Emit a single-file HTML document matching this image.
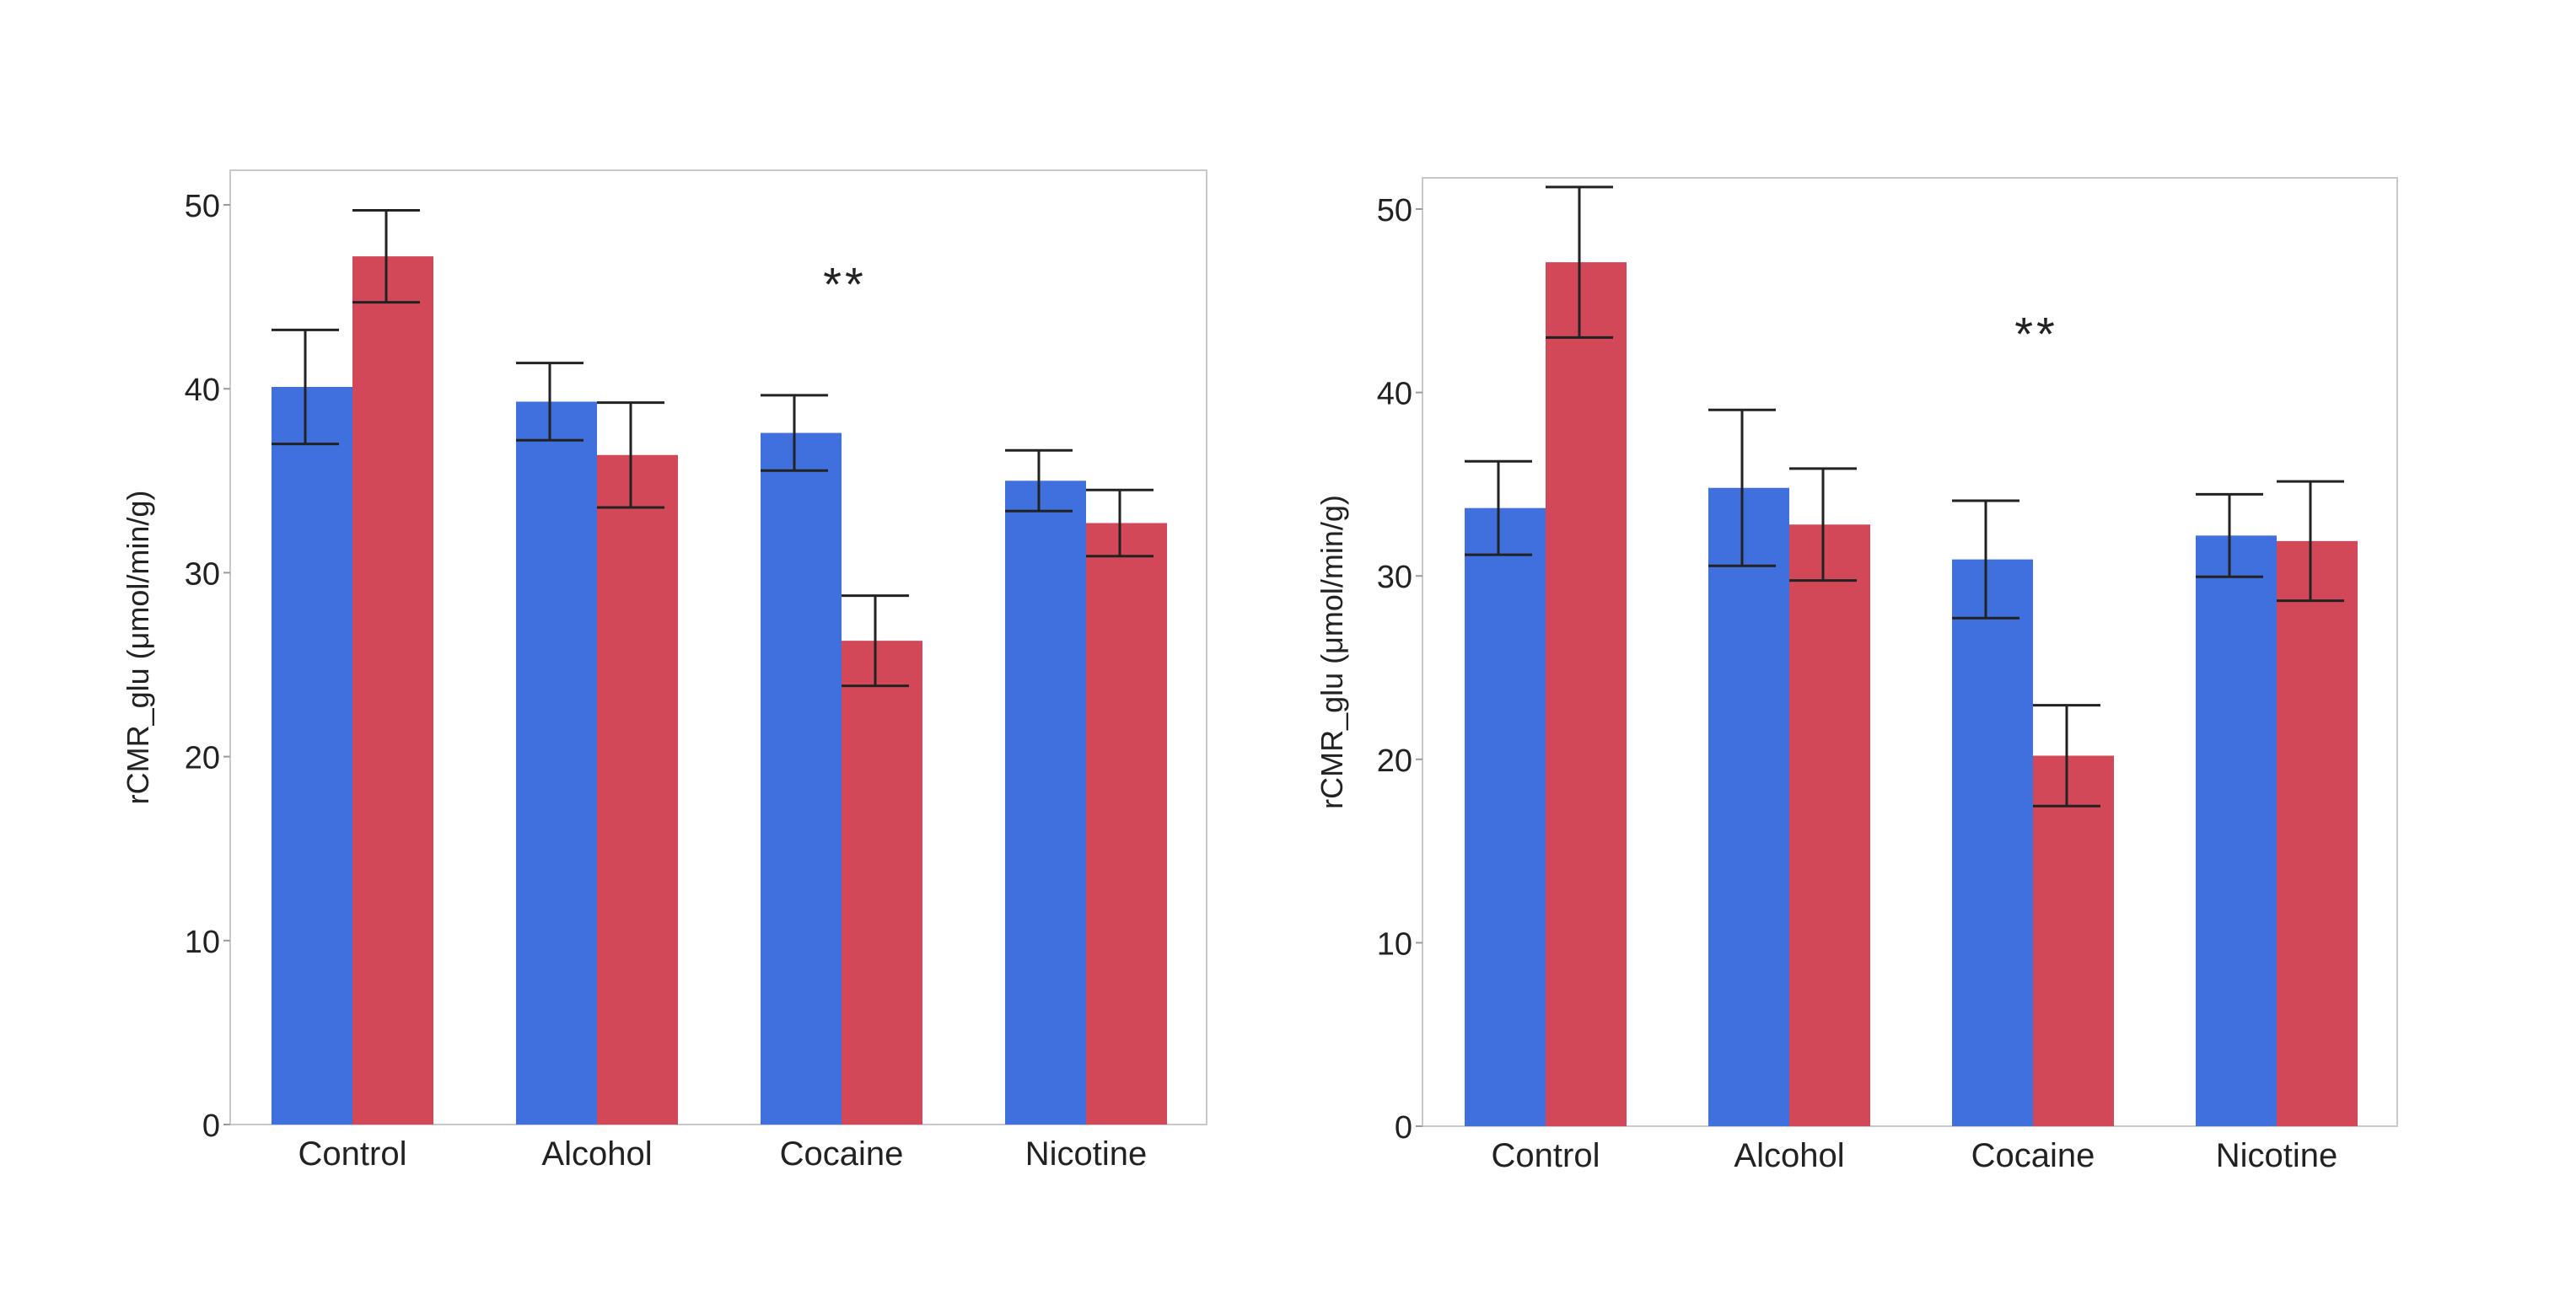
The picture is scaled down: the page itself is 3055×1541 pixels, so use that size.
<!DOCTYPE html>
<html><head><meta charset="utf-8"><style>
html,body{margin:0;padding:0;background:#fff;}
svg{display:block;}
text{font-family:"Liberation Sans",sans-serif;fill:#222;}
</style></head><body>
<svg id="chart" width="3055" height="1541" viewBox="0 0 3055 1541" xmlns="http://www.w3.org/2000/svg"></svg>
<script>
const categories = ["Control","Alcohol","Cocaine","Nicotine"];
const yTicks = [0,10,20,30,40,50];
const leftBlue = [40.1,39.3,37.6,35.0];
const leftRed = [47.2,36.4,26.3,32.7];
const leftBlueErr = [3.1,2.1,2.05,1.65];
const leftRedErr = [2.5,2.85,2.45,1.8];
const rightBlue = [33.7,34.8,30.9,32.2];
const rightRed = [47.1,32.8,20.2,31.9];
const rightBlueErr = [2.55,4.25,3.2,2.25];
const rightRedErr = [4.1,3.05,2.75,3.25];
const sigCategory = 2;
const sigLeftValue = 46.0;
const sigRightValue = 43.5;

const NS = "http://www.w3.org/2000/svg";
const svg = document.getElementById('chart');
function mk(tag, attrs, parent){
  const e = document.createElementNS(NS, tag);
  for (const k in attrs) e.setAttribute(k, attrs[k]);
  (parent||svg).appendChild(e); return e;
}
function panel(p){
  const g = mk('g', {});
  
  
  const y = v => p.y0 - v*(p.y0 - p.y50)/50;
  const x = i => p.x0 + i*p.step;
  const frame = mk('rect', {x:p.left, y:p.top, width:p.right-p.left, height:p.y0-p.top, fill:'none', stroke:'#c8c8c8', 'stroke-width':2}, g);
  
  
  yTicks.forEach(t => {
    const tk = mk('line', {x1:p.left-8, x2:p.left, y1:y(t), y2:y(t), stroke:'#999', 'stroke-width':2}, g);
    
    
    const tl = mk('text', {x:p.left-12, y:y(t)+14, 'text-anchor':'end', 'font-size':38}, g);
    tl.textContent = t;
    
    
  });
  const bw = 96, cap = 40;
  categories.forEach((c, i) => {
    const cx = x(i);
    [[p.blue, p.blueErr, '#4070DD', cx-bw, 'blue'], [p.red, p.redErr, '#D34858', cx, 'red']].forEach(s => {
      const v = s[0][i], e = s[1][i];
      const r = mk('rect', {x:s[3], y:y(v), width:bw, height:y(0)-y(v), fill:s[2]}, g);
      
      
      const ex = s[3] + bw/2 - 8;
      const eg = mk('g', {stroke:'#222', 'stroke-width':3}, g);
      
      
      mk('line', {x1:ex, x2:ex, y1:y(v+e), y2:y(v-e)}, eg);
      mk('line', {x1:ex-cap, x2:ex+cap, y1:y(v+e), y2:y(v+e)}, eg);
      mk('line', {x1:ex-cap, x2:ex+cap, y1:y(v-e), y2:y(v-e)}, eg);
    });
    const cl = mk('text', {x:cx, y:p.y0+48, 'text-anchor':'middle', 'font-size':40}, g);
    cl.textContent = c;
    
    
  });
  const cy = (p.top+p.y0)/2;
  const at = mk('text', {x:p.titleX, y:cy, 'text-anchor':'middle', 'font-size':36, transform:'rotate(-90 '+p.titleX+' '+cy+')'}, g);
  at.textContent = 'rCMR_glu (μmol/min/g)';
  
  
  const st = mk('text', {x:x(sigCategory)+4, y:y(p.sig)+26, 'text-anchor':'middle', 'font-size':56, 'letter-spacing':4}, g);
  st.textContent = '**';
  
  
}
panel({name:'left-chart', left:273, right:1431, top:202, y0:1334, y50:243, x0:418, step:290, titleX:176,
  blue:leftBlue, red:leftRed, blueErr:leftBlueErr, redErr:leftRedErr, sig:sigLeftValue});
panel({name:'right-chart', left:1687, right:2843, top:211, y0:1336, y50:248, x0:1833, step:289, titleX:1592,
  blue:rightBlue, red:rightRed, blueErr:rightBlueErr, redErr:rightRedErr, sig:sigRightValue});
</script>
</body></html>
